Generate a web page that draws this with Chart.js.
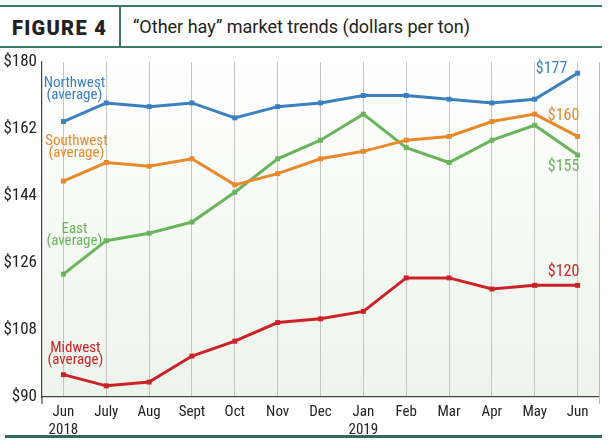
<!DOCTYPE html>
<html>
<head>
<meta charset="utf-8">
<script src="https://cdn.jsdelivr.net/npm/chart.js@4"></script>
<style>
  html, body { margin:0; padding:0; background:#fff; }
  #wrap { position:relative; width:610px; height:446px; overflow:hidden; }
  #hdrTop { position:absolute; left:0; top:5px; width:602px; height:2px; background:#3b7a64; }
  #hdrBot { position:absolute; left:0; top:46px; width:602px; height:2px; background:#3b7a64; }
  #hdrSep { position:absolute; left:119px; top:6px; width:2px; height:41px; background:#3b7a64; }
  #fig { position:absolute; left:12px; top:16px; font-family:"Roboto","DejaVu Sans",sans-serif; font-weight:900; font-size:20px; letter-spacing:1.3px; color:#222; }
  #ttl { position:absolute; left:133px; top:16px; font-family:"Roboto","DejaVu Sans",sans-serif; font-size:18px; color:#222; }
  #footLine { position:absolute; left:5px; top:435px; width:597px; height:3px; background:#2f6b58; }
  canvas { position:absolute; left:0; top:0; }
</style>
</head>
<body>
<div id="wrap">
  <div id="hdrTop"></div>
  <div id="hdrBot"></div>
  <div id="hdrSep"></div>
  <div id="fig">FIGURE 4</div>
  <div id="ttl">“Other hay” market trends (dollars per ton)</div>
  <canvas id="c" width="610" height="446"></canvas>
  <div id="footLine"></div>
</div>
<script>
const months = ['Jun','July','Aug','Sept','Oct','Nov','Dec','Jan','Feb','Mar','Apr','May','Jun'];
const years  = ['2018','','','','','','','2019','','','','',''];
const yTicks = [90,108,126,144,162,180];

const seriesNames = ['Northwest','Southwest','East','Midwest'];
const northwest = [164,169,168,169,165,168,169,171,171,170,169,170,177];
const southwest = [148,153,152,154,147,150,154,156,159,160,164,166,160];
const east      = [123,132,134,137,145,154,159,166,157,153,159,163,155];
const midwest   = [ 96, 93, 94,101,105,110,111,113,122,122,119,120,120];

const colors = ['#3a80c1','#e8892c','#6ab45c','#cb2228'];
const labels = months.map((m,i) => years[i] ? [m, years[i]] : m);
const values = [northwest, southwest, east, midwest];

const FONT = '"Liberation Sans Narrow","Roboto Condensed","DejaVu Sans Condensed",sans-serif';

// label placement (style only): offsets in px from first / last point
const leftOffsets = [[11,-32],[13,-34],[11,-39],[12,-20]];
const rightOffsets = [[-26,-4],[-14,-20],[-14,12],[-14,-13]];

const bgPlugin = {
  id:'bg',
  beforeDraw(chart){
    const {ctx, chartArea:a} = chart;
    const g = ctx.createLinearGradient(0,a.top,0,a.bottom);
    g.addColorStop(0,'#ffffff');
    g.addColorStop(1,'#edf4ea');
    ctx.save();
    ctx.fillStyle = g;
    ctx.fillRect(a.left,a.top,a.right-a.left,a.bottom-a.top);
    ctx.restore();
  },
  afterDraw(chart){
    const {ctx, chartArea:a} = chart;
    ctx.save();
    ctx.strokeStyle = '#b9b9b9'; ctx.lineWidth = 1;
    ctx.beginPath(); ctx.moveTo(a.right+0.5, a.top); ctx.lineTo(a.right+0.5, a.bottom+7); ctx.stroke();
    ctx.strokeStyle = '#444'; ctx.lineWidth = 1.2;
    ctx.beginPath(); ctx.moveTo(a.left, a.bottom); ctx.lineTo(a.left, a.bottom+7); ctx.stroke();
    const xs = chart.scales.x, ys = chart.scales.y;
    ctx.textAlign = 'center'; ctx.textBaseline = 'middle';
    values.forEach((vals,i) => {
      ctx.fillStyle = colors[i];
      ctx.font = '15px ' + FONT;
      const x0 = xs.getPixelForValue(0), y0 = ys.getPixelForValue(vals[0]);
      const [dx,dy] = leftOffsets[i];
      ctx.fillText(seriesNames[i], x0+dx, y0+dy-6);
      ctx.fillText('(average)', x0+dx, y0+dy+6);
      const n = vals.length-1;
      const x1 = xs.getPixelForValue(n), y1 = ys.getPixelForValue(vals[n]);
      const [ex,ey] = rightOffsets[i];
      ctx.font = '16px ' + FONT;
      ctx.fillText('$' + vals[n], x1+ex, y1+ey);
    });
    ctx.restore();
  }
};

new Chart(document.getElementById('c'), {
  type:'line',
  data:{
    labels: labels,
    datasets: values.map((v,i) => ({
      label: seriesNames[i],
      data: v,
      borderColor: colors[i],
      backgroundColor: colors[i],
      borderWidth: 3,
      pointStyle: 'rect',
      pointRadius: 3.5,
      pointBorderWidth: 0,
      tension: 0,
      fill: false
    }))
  },
  options:{
    responsive:false,
    animation:false,
    layout:{ padding:{ left:0, right:11, top:62, bottom:0 } },
    plugins:{ legend:{display:false}, tooltip:{enabled:false} },
    scales:{
      x:{
        offset:true,
        grid:{ offset:false, color:'#c4c4c4', lineWidth:1, drawTicks:false },
        border:{ color:'#444', width:1.2 },
        ticks:{ color:'#222', padding:6, font:{ family:FONT, size:15 }, maxRotation:0, autoSkip:false },
        afterFit(s){ s.height = 49; }
      },
      y:{
        min:90, max:180,
        afterBuildTicks(s){ s.ticks = yTicks.map(v => ({value:v})); },
        grid:{ display:false, drawTicks:false },
        border:{ color:'#444', width:1.2 },
        ticks:{ color:'#222', padding:5, font:{ family:FONT, size:17 }, callback:v => '$' + v },
        afterFit(s){ s.width = 42; }
      }
    }
  },
  plugins:[bgPlugin]
});
</script>
</body>
</html>
